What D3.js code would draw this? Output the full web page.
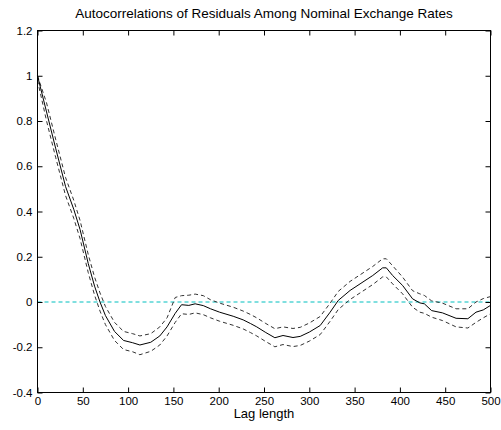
<!DOCTYPE html>
<html><head><meta charset="utf-8">
<script src="https://cdn.jsdelivr.net/npm/d3@7"></script>
<style>body{margin:0;background:#fff}svg{display:block}text{font-family:"Liberation Sans",Arial,sans-serif;fill:#000}</style>
</head><body><svg id="c" width="501" height="430"></svg>
<script>
const lags  = [0,10,20,31,40,47,56,63,69,75,85,95,105,113,125,135,143,152,159,167,174,183,191,201,216,227,235,242,252,262,271,282,290,300,312,323,332,345,356,370,381,385,392,403,414,422,427,435,447,462,475,484,492,500];
const acf   = [1.0,0.84,0.68,0.51,0.41,0.32,0.17,0.07,0.0,-0.06,-0.13,-0.17,-0.18,-0.19,-0.178,-0.15,-0.11,-0.05,-0.012,-0.015,-0.008,-0.016,-0.03,-0.045,-0.063,-0.079,-0.095,-0.11,-0.135,-0.158,-0.148,-0.157,-0.152,-0.133,-0.104,-0.045,0.007,0.051,0.08,0.117,0.151,0.151,0.117,0.073,0.014,-0.004,-0.008,-0.038,-0.048,-0.072,-0.074,-0.045,-0.035,-0.015];
const upper = [1.0,0.88,0.72,0.55,0.45,0.36,0.21,0.11,0.04,-0.02,-0.09,-0.13,-0.14,-0.15,-0.14,-0.11,-0.07,0.02,0.028,0.03,0.035,0.028,0.01,-0.005,-0.023,-0.04,-0.055,-0.07,-0.095,-0.118,-0.11,-0.117,-0.112,-0.093,-0.064,-0.005,0.047,0.091,0.12,0.157,0.191,0.191,0.16,0.11,0.05,0.036,0.029,0.005,-0.005,-0.03,-0.03,0.0,0.015,0.024];
const lower = [0.98,0.80,0.64,0.47,0.37,0.28,0.13,0.03,-0.04,-0.10,-0.17,-0.21,-0.22,-0.233,-0.218,-0.19,-0.15,-0.09,-0.052,-0.055,-0.048,-0.056,-0.07,-0.085,-0.103,-0.119,-0.135,-0.15,-0.175,-0.198,-0.188,-0.197,-0.192,-0.173,-0.144,-0.085,-0.033,0.011,0.04,0.077,0.111,0.111,0.08,0.036,-0.023,-0.045,-0.05,-0.067,-0.082,-0.11,-0.115,-0.09,-0.07,-0.052];
const xTicks = [0,50,100,150,200,250,300,350,400,450,500];
const yTicks = [-0.4,-0.2,0,0.2,0.4,0.6,0.8,1,1.2];
const titleText = "Autocorrelations of Residuals Among Nominal Exchange Rates";
const xLabel = "Lag length";

const svg = d3.select("#c");
const L=37.5, R=490.5, T=30.5, B=392.5;
const x = d3.scaleLinear().domain([0,500]).range([L,R]);
const y = d3.scaleLinear().domain([-0.4,1.2]).range([B,T]);

const g = svg.append("g");
g.append("line").attr("x1",x(0)).attr("x2",x(500)).attr("y1",y(0)).attr("y2",y(0))
 .attr("stroke","#00bfbf").attr("stroke-width",1).attr("stroke-dasharray","4,3");

const line = arr => d3.line().x((d,i)=>x(lags[i])).y(d=>y(d))(arr);
g.append("path").attr("d",line(upper)).attr("fill","none").attr("stroke","#333").attr("stroke-width",1).attr("stroke-dasharray","4,3");
g.append("path").attr("d",line(lower)).attr("fill","none").attr("stroke","#333").attr("stroke-width",1).attr("stroke-dasharray","4,3");
g.append("path").attr("d",line(acf)).attr("fill","none").attr("stroke","#000").attr("stroke-width",1);

svg.append("rect").attr("x",L).attr("y",T).attr("width",R-L).attr("height",B-T).attr("fill","none").attr("stroke","#000");

const fmt = d => String(+d.toFixed(1));
const xb = svg.append("g").attr("transform",`translate(0,${B})`).call(d3.axisBottom(x).tickValues(xTicks).tickSize(-5).tickPadding(4).tickFormat(d=>d));
const xt = svg.append("g").attr("transform",`translate(0,${T})`).call(d3.axisTop(x).tickValues(xTicks).tickSize(-5).tickFormat(""));
const yl = svg.append("g").attr("transform",`translate(${L},0)`).call(d3.axisLeft(y).tickValues(yTicks).tickSize(-5).tickPadding(5).tickFormat(fmt));
const yr = svg.append("g").attr("transform",`translate(${R},0)`).call(d3.axisRight(y).tickValues(yTicks).tickSize(-5).tickFormat(""));
[xb,xt,yl,yr].forEach(a=>{a.select(".domain").remove();a.selectAll("line").attr("stroke","#000");a.selectAll("text").attr("font-size",11.5).attr("font-family","Liberation Sans, Arial, sans-serif").attr("fill","#000");});

svg.append("text").attr("x",(L+R)/2).attr("y",18).attr("text-anchor","middle").attr("font-size",13.5).text(titleText);
svg.append("text").attr("x",(L+R)/2).attr("y",418).attr("text-anchor","middle").attr("font-size",13).text(xLabel);
</script></body></html>
